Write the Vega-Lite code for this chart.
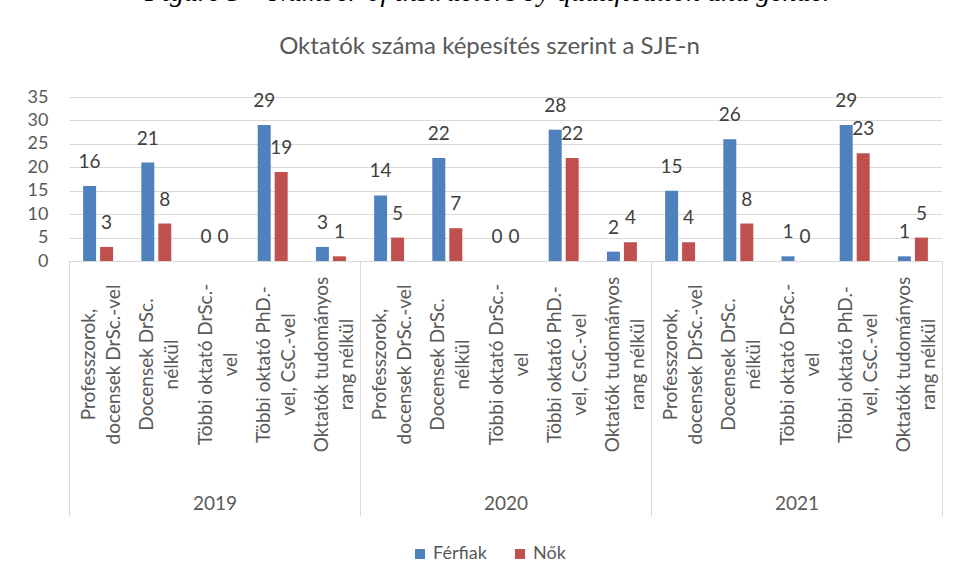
{
  "$schema": "https://vega.github.io/schema/vega-lite/v6.json",
  "autosize": "none",
  "padding": {"left": 69, "top": 97, "right": 15, "bottom": 321},
  "width": 873,
  "height": 164,
  "background": "white",
  "config": {"view": {"stroke": null}, "font": "Lato"},
  "title": {
    "text": "\u00a0\u00a0\u00a0\u00a0\u00a0\u00a0Figure 5 – Number of instructors by qualification and gender",
    "subtitle": "Oktatók száma képesítés szerint a SJE-n",
    "anchor": "middle",
    "frame": "group",
    "dx": -16,
    "offset": 29,
    "font": "Liberation Serif",
    "fontStyle": "italic",
    "fontWeight": "normal",
    "fontSize": 28,
    "color": "black",
    "subtitleFont": "Lato",
    "subtitleFontSize": 24,
    "subtitleColor": "#595959",
    "subtitlePadding": 28
  },
  "datasets": {
    "bars": [
      {"key": "2019|Professzorok,|docensek DrSc.-vel", "gender": "Férfiak", "value": 16},
      {"key": "2019|Professzorok,|docensek DrSc.-vel", "gender": "Nők", "value": 3},
      {"key": "2019|Docensek DrSc.|nélkül", "gender": "Férfiak", "value": 21},
      {"key": "2019|Docensek DrSc.|nélkül", "gender": "Nők", "value": 8},
      {"key": "2019|Többi oktató DrSc.-|vel", "gender": "Férfiak", "value": 0},
      {"key": "2019|Többi oktató DrSc.-|vel", "gender": "Nők", "value": 0},
      {"key": "2019|Többi oktató PhD.-|vel, CsC.-vel", "gender": "Férfiak", "value": 29},
      {"key": "2019|Többi oktató PhD.-|vel, CsC.-vel", "gender": "Nők", "value": 19},
      {"key": "2019|Oktatók tudományos|rang nélkül", "gender": "Férfiak", "value": 3},
      {"key": "2019|Oktatók tudományos|rang nélkül", "gender": "Nők", "value": 1},
      {"key": "2020|Professzorok,|docensek DrSc.-vel", "gender": "Férfiak", "value": 14},
      {"key": "2020|Professzorok,|docensek DrSc.-vel", "gender": "Nők", "value": 5},
      {"key": "2020|Docensek DrSc.|nélkül", "gender": "Férfiak", "value": 22},
      {"key": "2020|Docensek DrSc.|nélkül", "gender": "Nők", "value": 7},
      {"key": "2020|Többi oktató DrSc.-|vel", "gender": "Férfiak", "value": 0},
      {"key": "2020|Többi oktató DrSc.-|vel", "gender": "Nők", "value": 0},
      {"key": "2020|Többi oktató PhD.-|vel, CsC.-vel", "gender": "Férfiak", "value": 28},
      {"key": "2020|Többi oktató PhD.-|vel, CsC.-vel", "gender": "Nők", "value": 22},
      {"key": "2020|Oktatók tudományos|rang nélkül", "gender": "Férfiak", "value": 2},
      {"key": "2020|Oktatók tudományos|rang nélkül", "gender": "Nők", "value": 4},
      {"key": "2021|Professzorok,|docensek DrSc.-vel", "gender": "Férfiak", "value": 15},
      {"key": "2021|Professzorok,|docensek DrSc.-vel", "gender": "Nők", "value": 4},
      {"key": "2021|Docensek DrSc.|nélkül", "gender": "Férfiak", "value": 26},
      {"key": "2021|Docensek DrSc.|nélkül", "gender": "Nők", "value": 8},
      {"key": "2021|Többi oktató DrSc.-|vel", "gender": "Férfiak", "value": 1},
      {"key": "2021|Többi oktató DrSc.-|vel", "gender": "Nők", "value": 0},
      {"key": "2021|Többi oktató PhD.-|vel, CsC.-vel", "gender": "Férfiak", "value": 29},
      {"key": "2021|Többi oktató PhD.-|vel, CsC.-vel", "gender": "Nők", "value": 23},
      {"key": "2021|Oktatók tudományos|rang nélkül", "gender": "Férfiak", "value": 1},
      {"key": "2021|Oktatók tudományos|rang nélkül", "gender": "Nők", "value": 5}
    ],
    "years": [{"year": "2019"}, {"year": "2020"}, {"year": "2021"}]
  },
  "layer": [
    {
      "data": {"name": "bars"},
      "encoding": {
        "x": {
          "field": "key",
          "type": "nominal",
          "sort": null,
          "scale": {"paddingInner": 0.485, "paddingOuter": 0.2425},
          "axis": {
            "orient": "bottom",
            "title": null,
            "labelExpr": "slice(split(datum.label, '|'), 1)",
            "labelAngle": -90,
            "labelAlign": "center",
            "labelBaseline": "middle",
            "labelPadding": 103,
            "labelOffset": -9,
            "labelLineHeight": 25,
            "labelFont": "Lato",
            "labelFontSize": 19,
            "labelColor": "#595959",
            "labelOverlap": false,
            "labelBound": false,
            "labelLimit": 400,
            "ticks": false,
            "domain": true,
            "domainColor": "#d9d9d9",
            "domainWidth": 1,
            "grid": false
          }
        },
        "xOffset": {
          "field": "gender",
          "type": "nominal",
          "scale": {"paddingInner": 0.235, "paddingOuter": 0}
        },
        "y": {
          "field": "value",
          "type": "quantitative",
          "scale": {"domain": [0, 35], "nice": false},
          "axis": {
            "title": null,
            "values": [0, 5, 10, 15, 20, 25, 30, 35],
            "domain": false,
            "ticks": false,
            "labelPadding": 21,
            "labelFont": "Lato",
            "labelFontSize": 18,
            "labelColor": "#595959",
            "gridColor": "#d9d9d9",
            "gridWidth": 1
          }
        }
      },
      "layer": [
        {
          "mark": {"type": "bar"},
          "encoding": {
            "color": {
              "field": "gender",
              "type": "nominal",
              "scale": {"domain": ["Férfiak", "Nők"], "range": ["#4f81bd", "#c0504d"]},
              "legend": {
                "title": null,
                "orient": "none",
                "legendX": 342,
                "legendY": 448,
                "direction": "horizontal",
                "symbolType": "square",
                "symbolSize": 100,
                "symbolStrokeWidth": 0,
                "labelFont": "Lato",
                "labelFontSize": 18,
                "labelColor": "#595959",
                "columnPadding": 24,
                "labelOffset": 4,
                "padding": 0
              }
            }
          }
        },
        {
          "mark": {"type": "text", "baseline": "middle", "dy": -24, "font": "Lato", "fontSize": 19, "color": "#404040"},
          "encoding": {"text": {"field": "value", "type": "quantitative"}}
        }
      ]
    },
    {
      "data": {"name": "years"},
      "mark": {"type": "rule", "opacity": 0},
      "encoding": {
        "x": {
          "field": "year",
          "type": "nominal",
          "scale": {"paddingInner": 0, "paddingOuter": 0},
          "axis": {
            "orient": "bottom",
            "title": null,
            "labelAngle": 0,
            "domain": false,
            "ticks": true,
            "tickBand": "extent",
            "tickSize": 255,
            "tickColor": "#d9d9d9",
            "tickWidth": 1,
            "labelPadding": -22,
            "labelFont": "Lato",
            "labelFontSize": 19,
            "labelColor": "#595959",
            "grid": false
          }
        }
      }
    }
  ],
  "resolve": {"scale": {"x": "independent"}, "axis": {"x": "independent"}}
}
